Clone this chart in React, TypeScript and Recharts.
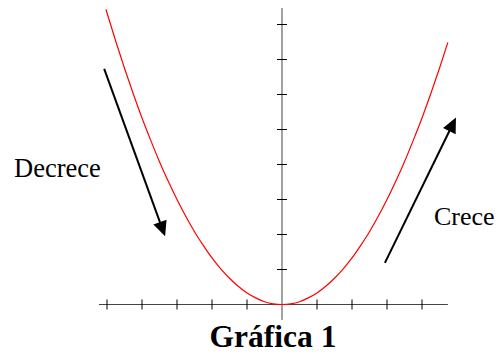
import React from 'react';
import { LineChart, Line, XAxis, YAxis, ReferenceLine } from 'recharts';

// Parabola samples (x, y)
const curveX = [
  -5.03, -4.75, -4.5, -4.25, -4, -3.75, -3.5, -3.25, -3, -2.75, -2.5, -2.25, -2,
  -1.75, -1.5, -1.25, -1, -0.75, -0.5, -0.25, 0, 0.25, 0.5, 0.75, 1, 1.25, 1.5,
  1.75, 2, 2.25, 2.5, 2.75, 3, 3.25, 3.5, 3.75, 4, 4.25, 4.5, 4.74,
];
const curveY = [
  8.43, 7.52, 6.75, 6.02, 5.33, 4.69, 4.08, 3.52, 3.0, 2.52, 2.08, 1.69, 1.33,
  1.02, 0.75, 0.52, 0.33, 0.19, 0.08, 0.02, 0, 0.02, 0.08, 0.19, 0.33, 0.52, 0.75,
  1.02, 1.33, 1.69, 2.08, 2.52, 3.0, 3.52, 4.08, 4.69, 5.33, 6.02, 6.75, 7.49,
];

// Axis ticks and extents
const xTicks = [-5, -4, -3, -2, -1, 1, 2, 3, 4];
const yTicks = [1, 2, 3, 4, 5, 6, 7, 8];
const xAxisRange = [-5.23, 4.74];
const yAxisRange = [-0.44, 8.47];
const tickHalf = 0.143;

// Direction arrows (start -> tip)
const decreceArrow = [
  { x: -5.08, y: 6.73 },
  { x: -3.34, y: 1.95 },
];
const creceArrow = [
  { x: 2.94, y: 1.19 },
  { x: 4.97, y: 5.34 },
];

const data = curveX.map((x, i) => ({ x, y: curveY[i] }));

const Arrow = (p: any) => {
  const { x1, y1, x2, y2 } = p;
  const dx = x2 - x1;
  const dy = y2 - y1;
  const len = Math.hypot(dx, dy) || 1;
  const ux = dx / len;
  const uy = dy / len;
  const hl = 15;
  const hw = 7;
  const bx = x2 - ux * hl;
  const by = y2 - uy * hl;
  const pts = `${x2},${y2} ${bx - uy * hw},${by + ux * hw} ${bx + uy * hw},${by - ux * hw}`;
  return (
    <g>
      <line x1={x1} y1={y1} x2={bx + ux * 2} y2={by + uy * 2} stroke="#000" strokeWidth={2} />
      <polygon points={pts} fill="#000" />
    </g>
  );
};

const serif = '"Liberation Serif", "Times New Roman", serif';

export default function App() {
  return (
    <div style={{ position: 'absolute', left: 0, top: 0, width: 498, height: 356, background: '#fff' }}>
      <LineChart
        width={498}
        height={356}
        data={data}
        margin={{ top: 3.5, right: 6, bottom: 2.5, left: 2 }}
      >
        <XAxis dataKey="x" type="number" domain={[-8, 6]} allowDataOverflow hide />
        <YAxis type="number" domain={[-1.4, 8.6]} allowDataOverflow hide />
        <ReferenceLine
          segment={[{ x: xAxisRange[0], y: 0 }, { x: xAxisRange[1], y: 0 }]}
          stroke="#444"
          strokeWidth={1}
          ifOverflow="visible"
        />
        <ReferenceLine
          segment={[{ x: 0, y: yAxisRange[0] }, { x: 0, y: yAxisRange[1] }]}
          stroke="#444"
          strokeWidth={1}
          ifOverflow="visible"
        />
        {xTicks.map((t) => (
          <ReferenceLine
            key={`xt${t}`}
            segment={[{ x: t, y: -tickHalf }, { x: t, y: tickHalf }]}
            stroke="#000"
            strokeWidth={1}
            ifOverflow="visible"
          />
        ))}
        {yTicks.map((t) => (
          <ReferenceLine
            key={`yt${t}`}
            segment={[{ x: -tickHalf, y: t }, { x: tickHalf, y: t }]}
            stroke="#000"
            strokeWidth={1}
            ifOverflow="visible"
          />
        ))}
        <Line
          dataKey="y"
          type="monotone"
          stroke="#ff0000"
          strokeWidth={1.2}
          dot={false}
          isAnimationActive={false}
        />
        <ReferenceLine segment={decreceArrow} shape={Arrow} ifOverflow="visible" />
        <ReferenceLine segment={creceArrow} shape={Arrow} ifOverflow="visible" />
      </LineChart>
      <svg
        width={498}
        height={356}
        style={{ position: 'absolute', left: 0, top: 0, pointerEvents: 'none' }}
      >
        <text x={14} y={177} fontSize={26.5} fontFamily={serif} fill="#000">
          Decrece
        </text>
        <text x={434} y={225} fontSize={26} fontFamily={serif} fill="#000">
          Crece
        </text>
        <text
          x={273}
          y={347}
          fontSize={31.5}
          fontWeight="bold"
          fontFamily={serif}
          textAnchor="middle"
          fill="#000"
        >
          Gráfica 1
        </text>
      </svg>
    </div>
  );
}
